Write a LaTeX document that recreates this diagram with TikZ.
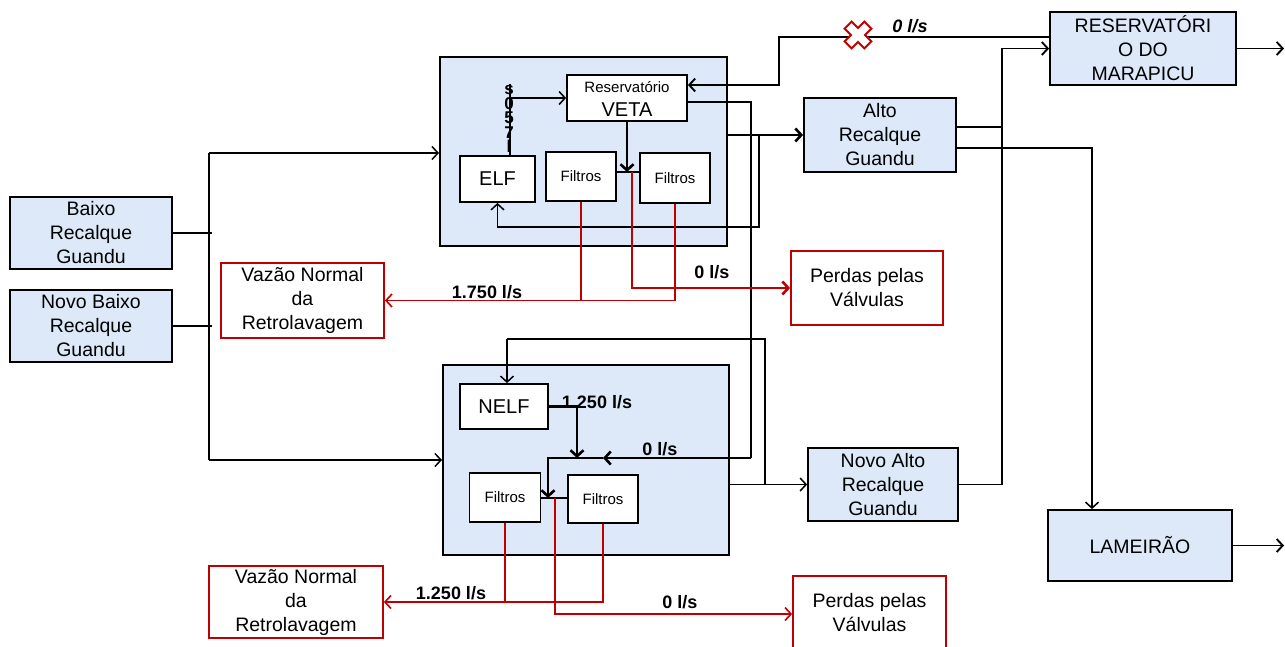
\documentclass[tikz,border=0pt]{standalone}
\usepackage{fontspec}
\setmainfont{Liberation Sans}
\usetikzlibrary{arrows.meta,calc}
\definecolor{boxblue}{RGB}{221,233,248}
\definecolor{myred}{RGB}{192,0,0}
\begin{document}
\begin{tikzpicture}[x=1pt,y=-1pt,
  frame/.style={draw=black, line width=2pt, fill=boxblue},
  bluebox/.style={draw=black, line width=1.8pt, fill=boxblue, align=center, inner sep=0pt, font=\fontsize{19.5}{24}\selectfont},
  whitebox/.style={draw=black, line width=1.8pt, fill=white, align=center, inner sep=0pt},
  redbox/.style={draw=myred, line width=1.8pt, fill=white, align=center, inner sep=0pt, font=\fontsize{19.5}{24}\selectfont},
  ln/.style={draw=black, line width=1.5pt},
  md/.style={draw=black, line width=1.9pt},
  tk/.style={draw=black, line width=2.6pt},
  arr/.style={-{Straight Barb[length=6pt,width=13pt]}},
  rln/.style={draw=myred, line width=1.6pt},
  rtk/.style={draw=myred, line width=2.6pt},
  lbl/.style={font=\bfseries\fontsize{18}{18}\selectfont, inner sep=0pt}
]
\useasboundingbox (0,0) rectangle (1285,646);
\fill[white] (0,0) rectangle (1285,646);

% frames
\node[frame, minimum width=287pt, minimum height=189pt] (topbox) at (583.5,151.5) {};
\node[frame, minimum width=286pt, minimum height=190pt] (botbox) at (586,460) {};

% blue boxes
\node[bluebox, minimum width=162pt, minimum height=72pt] (baixo) at (91,233) {Baixo\\Recalque\\Guandu};
\node[bluebox, minimum width=162pt, minimum height=72pt] (novobaixo) at (91,326) {Novo Baixo\\Recalque\\Guandu};
\node[bluebox, minimum width=152pt, minimum height=74pt] (alto) at (880,135) {Alto\\Recalque\\Guandu};
\node[bluebox, minimum width=186pt, minimum height=73pt] (marapicu) at (1143,48.5) {RESERVATÓRI\\O DO\\MARAPICU};
\node[bluebox, minimum width=150pt, minimum height=73pt] (novoalto) at (883,484.5) {Novo Alto\\Recalque\\Guandu};
\node[bluebox, minimum width=184pt, minimum height=71pt] (lameirao) at (1140,545.5) {LAMEIRÃO};

% red boxes
\node[redbox, minimum width=163pt, minimum height=75pt] (vazao1) at (302.5,300.5) {Vazão Normal\\da\\Retrolavagem};
\node[redbox, minimum width=174pt, minimum height=72pt] (vazao2) at (296,602) {Vazão Normal\\da\\Retrolavagem};
\node[redbox, minimum width=152pt, minimum height=74pt] (perdas1) at (867,288) {Perdas pelas\\Válvulas};
\node[draw=myred, line width=1.8pt, fill=white, minimum width=153pt, minimum height=76pt] (perdas2) at (869.5,614) {};
\node[align=center, font=\fontsize{19.5}{24}\selectfont] (perdas2t) at (869.5,613) {Perdas pelas\\Válvulas};

% inner white boxes
\node[whitebox, minimum width=120pt, minimum height=46pt] (veta) at (627,98) {};
\node[inner sep=0pt, font=\fontsize{15}{15}\selectfont] (vetaA) at (627,87) {Reservatório};
\node[inner sep=0pt, font=\fontsize{20}{20}\selectfont] (vetaB) at (627,110) {VETA};
\node[whitebox, minimum width=75pt, minimum height=46pt, font=\fontsize{20}{20}\selectfont] (elf) at (497.5,179) {ELF};
\node[whitebox, minimum width=70pt, minimum height=49pt, font=\fontsize{15}{15}\selectfont] (filtA) at (581,176.5) {Filtros};
\node[whitebox, minimum width=70pt, minimum height=50pt, font=\fontsize{15}{15}\selectfont] (filtB) at (675,178) {Filtros};
\node[whitebox, minimum width=88pt, minimum height=45pt, font=\fontsize{20}{20}\selectfont] (nelf) at (504,406.5) {NELF};
\node[whitebox, minimum width=71pt, minimum height=49pt, font=\fontsize{15}{15}\selectfont] (filtC) at (505,497.5) {Filtros};
\node[whitebox, minimum width=70pt, minimum height=48pt, font=\fontsize{15}{15}\selectfont] (filtD) at (603,499) {Filtros};

% junction coordinates
\coordinate (busTop) at (209,153);
\coordinate (busBot) at (209,460);
\coordinate (jA) at (628,172);
\coordinate (jR) at (632,172);
\coordinate (jC) at (548,498);
\coordinate (jRC) at (555,498);
\coordinate (xVeta) at (779,37);
\coordinate (xOut) at (751,102);
\coordinate (xRet) at (759,135);
\coordinate (xNov) at (765,484.5);
\coordinate (xAlto) at (1002,127);
\coordinate (nelfIn) at (507,339);
\coordinate (nJ) at (577,458);
\coordinate (outM) at (1284,48.5);
\coordinate (outL) at (1284,545.5);

% inputs
\draw[ln] (busTop) -- (busBot);
\draw[tk] (baixo.east) -- ([xshift=3pt]baixo.east -| busTop);
\draw[md] (novobaixo.east) -- ([xshift=3pt]novobaixo.east -| busBot);
\draw[ln, arr] (busTop) -- (busTop -| topbox.west);
\draw[ln, arr] (busBot) -- (busBot -| botbox.west);

% top plant
\draw[ln] ([xshift=12.5pt]elf.north) -- ([xshift=12.5pt]elf.north |- 0,84);
\draw[ln, arr] ([xshift=12.5pt]elf.north |- veta.west) -- (veta.west);
\draw[tk, arr] (veta.south) -- (veta.south |- jA);
\draw[ln] (filtA.east |- jA) -- (filtB.west |- jA);
\draw[tk, arr] (topbox.east |- alto.west) -- (alto.west);
\draw[ln, arr] (xRet) -- (xRet |- 0,227) -| (elf.south);
\draw[md, arr] (marapicu.west |- xVeta) -- (xVeta) -- (xVeta |- 0,85) -- ([yshift=13pt]veta.east);
\draw[ln] ([yshift=-4pt]veta.east) -- (xOut) -- (xOut |- nJ);

% red top
\draw[rtk, arr] (jR) |- (perdas1.west);
\draw[rln] (filtA.south) -- (filtA.south |- vazao1.east);
\draw[rln, arr] (filtB.south) |- (vazao1.east);

% bottom plant
\draw[tk, arr] (xOut |- nJ) -- (603,458);
\draw[tk, arr] (603,458) -- (jC |- nJ) -- (jC);
\draw[tk, arr] (nelf.east) -| (nJ);
\draw[ln] (filtC.east |- jC) -- (filtD.west |- jC);
\draw[ln, arr] (botbox.east |- novoalto.west) -- (novoalto.west);
\draw[md] (xNov) -- (xNov |- nelfIn) -- (nelfIn);
\draw[ln, arr] (nelfIn) -- (nelfIn |- nelf.north);

% red bottom
\draw[rln] (filtC.south) -- (filtC.south |- vazao2.east);
\draw[rln, arr] (filtD.south) |- (vazao2.east);
\draw[rln, arr] (jRC) |- (perdas2.west);

% right side
\draw[tk] (alto.east |- xAlto) -- (xAlto);
\draw[md, arr] (xAlto |- novoalto.east) -- (xAlto |- outM) -- (marapicu.west);
\draw[md] (novoalto.east) -- (xAlto |- novoalto.east);
\draw[ln, arr] (alto.east |- 0,148) -| ([xshift=-48pt]lameirao.north);
\draw[md, arr] (marapicu.east) -- (outM);
\draw[md, arr] (lameirao.east) -- (outL);

% red X
\begin{scope}[shift={(858,35)}, rotate=45]
\draw[draw=myred, line width=2pt, fill=white, line join=miter]
 (-5,-14)--(5,-14)--(5,-5)--(14,-5)--(14,5)--(5,5)--(5,14)--(-5,14)--(-5,5)--(-14,5)--(-14,-5)--(-5,-5)--cycle;
\end{scope}

% labels
\node[lbl, font=\bfseries\itshape\fontsize{18}{18}\selectfont] (l0) at (910,26) {0 l/s};
\node[lbl] (l1750) at (487,292) {1.750 l/s};
\node[lbl] (l0a) at (712,272) {0 l/s};
\node[lbl] (l1250a) at (597,402) {1.250 l/s};
\node[lbl] (l0b) at (660,449) {0 l/s};
\node[lbl] (l1250b) at (451,593) {1.250 l/s};
\node[lbl] (l0c) at (680,602) {0 l/s};
\node[align=center, inner sep=0pt, font=\bfseries\fontsize{17}{14.5}\selectfont] (vt) at (509,119) {s\\0\\5\\7\\l};
\end{tikzpicture}
\end{document}
